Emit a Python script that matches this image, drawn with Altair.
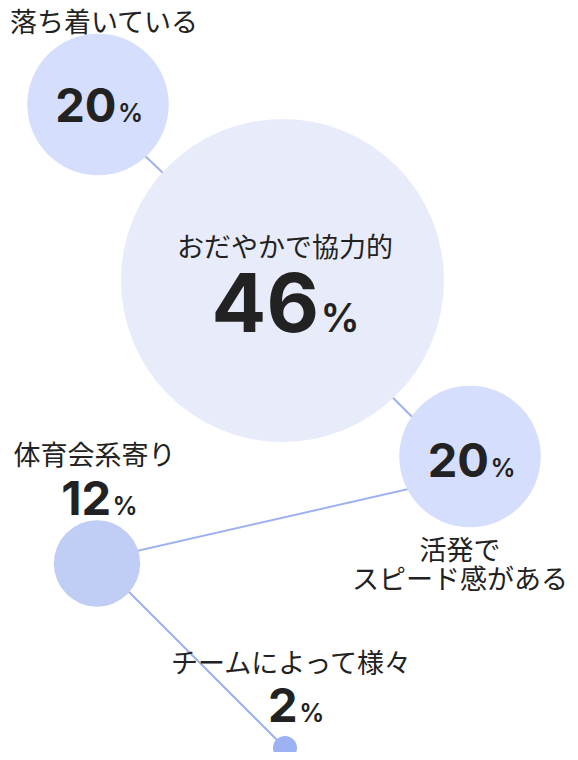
import altair as alt
import pandas as pd

# ---- data ----
names = ["落ち着いている", "おだやかで協力的", "活発で\nスピード感がある", "体育会系寄り", "チームによって様々"]
values = [20, 46, 20, 12, 2]
# bubble layout (page pixel coordinates)
center_x = [98, 282.5, 470, 97, 285]
center_y = [104.5, 280.5, 456.5, 563.5, 748]
# connector path through the bubbles
link_x = [98, 282.5, 470, 97, 285]
link_y = [111, 287, 475, 560, 748]

# ---- styling / placement (offsets from bubble centres) ----
label_dx = [6, 2.5, -10, -2.5, 6]
label_dy = [-72.5, -23.5, 103.5, -99, -75]
num_split_dx = [19.5, 37.5, 20, 15, 13.7]
num_dy = [17.5, 51.8, 20.2, -48.5, -26.3]

W, H = 562, 744
X0, Y0 = 8, 8

nodes = pd.DataFrame({"name": names, "value": values, "x": center_x, "y": center_y})
links = pd.DataFrame({"x": link_x, "y": link_y, "order": list(range(len(link_x)))})

rows = []
for i in range(len(names)):
    rows.append({"kind": "label", "text": names[i], "value": values[i],
                 "x": center_x[i] + label_dx[i], "y": center_y[i] + label_dy[i]})
    rows.append({"kind": "num", "text": str(values[i]), "value": values[i],
                 "x": center_x[i] + num_split_dx[i], "y": center_y[i] + num_dy[i]})
    rows.append({"kind": "pct", "text": "%", "value": values[i],
                 "x": center_x[i] + num_split_dx[i], "y": center_y[i] + num_dy[i]})
texts = pd.DataFrame(rows)

xs = alt.Scale(domain=[X0, X0 + W], nice=False, zero=False)
ys = alt.Scale(domain=[Y0, Y0 + H], nice=False, zero=False, reverse=True)
X = alt.X("x:Q", scale=xs, axis=None)
Y = alt.Y("y:Q", scale=ys, axis=None)

line = alt.Chart(links).mark_line(color="#9db1f1", strokeWidth=2).encode(
    x=X, y=Y, order="order:Q"
)

bubbles = alt.Chart(nodes).mark_circle(opacity=1).encode(
    x=X, y=Y,
    size=alt.Size("value:Q", scale=alt.Scale(type="pow", exponent=2, domain=[2, 46],
                                             range=[24 ** 2, 323 ** 2]), legend=None),
    color=alt.Color("value:Q", scale=alt.Scale(domain=[2, 12, 20, 46],
                                               range=["#9db2f2", "#c0cdf5", "#d5defc", "#e8ecfa"]),
                    legend=None),
)

labels = alt.Chart(texts).transform_filter(alt.datum.kind == "label").mark_text(
    font="Noto Sans CJK JP", fontSize=27, color="#222222", align="center",
    baseline="alphabetic", lineBreak="\n", lineHeight=29
).encode(x=X, y=Y, text="text:N")

nums = alt.Chart(texts).transform_filter(alt.datum.kind == "num").mark_text(
    font="Inter", fontWeight="bold", color="#222222", align="right", baseline="alphabetic", dx=-1
).encode(
    x=X, y=Y, text="text:N",
    size=alt.condition(alt.datum.value >= 40, alt.value(81), alt.value(47)),
)

pcts = alt.Chart(texts).transform_filter(alt.datum.kind == "pct").mark_text(
    font="Inter", fontWeight=600, color="#222222", align="left", baseline="alphabetic", dx=0.5
).encode(
    x=X, y=Y, text="text:N",
    size=alt.condition(alt.datum.value >= 40, alt.value(39), alt.value(25)),
)

chart = alt.layer(line, bubbles, labels, nums, pcts).properties(
    width=W, height=H, padding=0, autosize=alt.AutoSizeParams(type="none")
).configure_view(stroke=None)

chart.save("out.html", embed_options={"renderer": "svg", "actions": False})
